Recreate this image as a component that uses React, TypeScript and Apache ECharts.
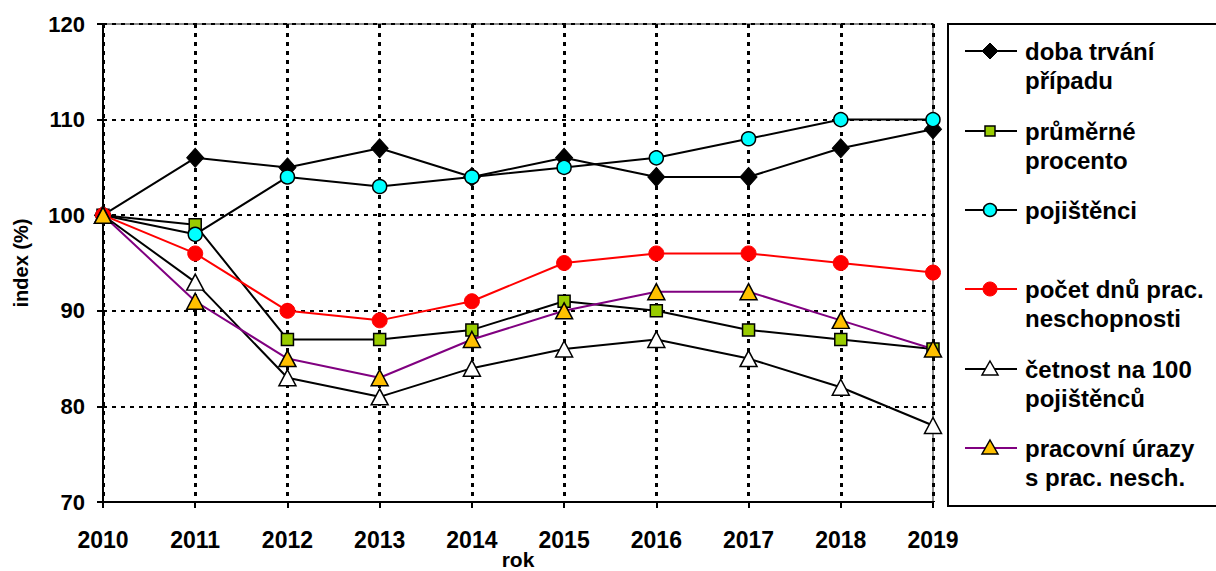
import React, { useEffect, useRef } from "react";
import * as echarts from "echarts";

const years = ["2010", "2011", "2012", "2013", "2014", "2015", "2016", "2017", "2018", "2019"];
const dobaTrvani = [100, 106, 105, 107, 104, 106, 104, 104, 107, 109];
const prumerneProcento = [100, 99, 87, 87, 88, 91, 90, 88, 87, 86];
const pojistenci = [100, 98, 104, 103, 104, 105, 106, 108, 110, 110];
const pocetDnu = [100, 96, 90, 89, 91, 95, 96, 96, 95, 94];
const cetnost = [100, 93, 83, 81, 84, 86, 87, 85, 82, 78];
const pracovniUrazy = [100, 91, 85, 83, 87, 90, 92, 92, 89, 86];
const legendLabels = [
  "doba trvání\npřípadu",
  "průměrné\nprocento",
  "pojištěnci",
  "počet dnů prac.\nneschopnosti",
  "četnost na 100\npojištěnců",
  "pracovní úrazy\ns prac. nesch.",
];

const FONT = '"Liberation Sans", Arial, sans-serif';

export default function App() {
  const ref = useRef<HTMLDivElement>(null);
  useEffect(() => {
    document.body.style.margin = "0";
    const chart = echarts.init(ref.current!, null, { renderer: "svg" });

    const legendY = [51, 131, 210, 289, 369, 448];
    const lx0 = 965, lx1 = 1017, mx = 990, tx = 1025;
    const markerFor = (i: number, y: number): any => {
      switch (i) {
        case 0:
          return { type: "polygon", shape: { points: [[mx, y - 8], [mx + 8, y], [mx, y + 8], [mx - 8, y]] }, style: { fill: "#000", stroke: "#000", lineWidth: 1 } };
        case 1:
          return { type: "rect", shape: { x: mx - 5, y: y - 5, width: 10, height: 10 }, style: { fill: "#99CC00", stroke: "#000", lineWidth: 1.5 } };
        case 2:
          return { type: "circle", shape: { cx: mx, cy: y, r: 6.5 }, style: { fill: "#00FFFF", stroke: "#000", lineWidth: 1.5 } };
        case 3:
          return { type: "circle", shape: { cx: mx, cy: y, r: 7 }, style: { fill: "#FF0000", stroke: "#FF0000", lineWidth: 1 } };
        case 4:
          return { type: "polygon", shape: { points: [[mx, y - 8], [mx + 8, y + 6], [mx - 8, y + 6]] }, style: { fill: "#fff", stroke: "#000", lineWidth: 1.5 } };
        default:
          return { type: "polygon", shape: { points: [[mx, y - 8], [mx + 8, y + 6], [mx - 8, y + 6]] }, style: { fill: "#FFC000", stroke: "#000", lineWidth: 1.5 } };
      }
    };
    const lineColors = ["#000", "#000", "#000", "#FF0000", "#000", "#800080"];
    const legendGraphics: any[] = [
      { type: "rect", shape: { x: 948, y: 24, width: 280, height: 482 }, style: { fill: "#fff", stroke: "#000", lineWidth: 2 }, z: 1 },
      {
        type: "text",
        x: 518,
        y: 559,
        style: { text: "rok", font: `bold 21px ${FONT}`, fill: "#000", align: "center", verticalAlign: "middle" },
        z: 3,
      },
    ];
    legendLabels.forEach((lbl, i) => {
      const y = legendY[i];
      legendGraphics.push({ type: "line", shape: { x1: lx0, y1: y, x2: lx1, y2: y }, style: { stroke: lineColors[i], lineWidth: 2 }, z: 2 });
      legendGraphics.push({ ...markerFor(i, y), z: 3 });
      legendGraphics.push({
        type: "text",
        x: tx,
        y: y - 14.5,
        style: { text: lbl, font: `bold 24px ${FONT}`, lineHeight: 29, fill: "#000", align: "left", verticalAlign: "top" },
        z: 3,
      });
    });

    const mk = (name: string, data: number[], lineColor: string, symbol: string, size: any, fill: string, border: string, bw: number) => ({
      name,
      type: "line",
      data,
      symbol,
      symbolSize: size,
      showAllSymbol: true,
      lineStyle: { color: lineColor, width: 2 },
      itemStyle: { color: fill, borderColor: border, borderWidth: bw },
      emphasis: { disabled: true },
    });

    chart.setOption({
      animation: false,
      backgroundColor: "#fff",
      textStyle: { fontFamily: FONT },
      grid: { left: 103, top: 24, right: 283, bottom: 69, show: true, borderColor: "#8c8c8c", borderWidth: 2, backgroundColor: "transparent", containLabel: false, outerBoundsMode: "none" },
      xAxis: {
        type: "category",
        data: years,
        boundaryGap: false,
        axisLine: { lineStyle: { color: "#000", width: 2 } },
        axisTick: { show: true, length: 6, lineStyle: { color: "#000", width: 2 } },
        axisLabel: { color: "#000", fontWeight: "bold", fontSize: 23, margin: 26, fontFamily: FONT },
        splitLine: { show: true, lineStyle: { color: "#000", width: 3, type: [4, 5] } },
      },
      yAxis: {
        type: "value",
        min: 70,
        max: 120,
        interval: 10,
        axisLine: { show: true, lineStyle: { color: "#000", width: 2 } },
        axisTick: { show: true, length: 6, lineStyle: { color: "#000", width: 2 } },
        axisLabel: { color: "#000", fontWeight: "bold", fontSize: 22, margin: 18, fontFamily: FONT },
        splitLine: { show: true, lineStyle: { color: "#000", width: 2, type: [4, 5] } },
        name: "index (%)",
        nameLocation: "middle",
        nameGap: 72,
        nameTextStyle: { color: "#000", fontWeight: "bold", fontSize: 20, fontFamily: FONT },
      },
      graphic: legendGraphics,
      series: [
        mk("doba trvání případu", dobaTrvani, "#000", "diamond", [17, 19], "#000", "#000", 1),
        mk("průměrné procento", prumerneProcento, "#000", "rect", 12, "#99CC00", "#000", 1.5),
        mk("pojištěnci", pojistenci, "#000", "circle", 14, "#00FFFF", "#000", 1.5),
        mk("počet dnů prac. neschopnosti", pocetDnu, "#FF0000", "circle", 15, "#FF0000", "#FF0000", 1),
        mk("četnost na 100 pojištěnců", cetnost, "#000", "triangle", [17, 16], "#FFFFFF", "#000", 1.5),
        mk("pracovní úrazy s prac. nesch.", pracovniUrazy, "#800080", "triangle", [17, 16], "#FFC000", "#000", 1.5),
      ],
    });
    return () => chart.dispose();
  }, []);
  return <div ref={ref} style={{ position: "fixed", left: 0, top: 0, width: 1216, height: 571 }} />;
}
